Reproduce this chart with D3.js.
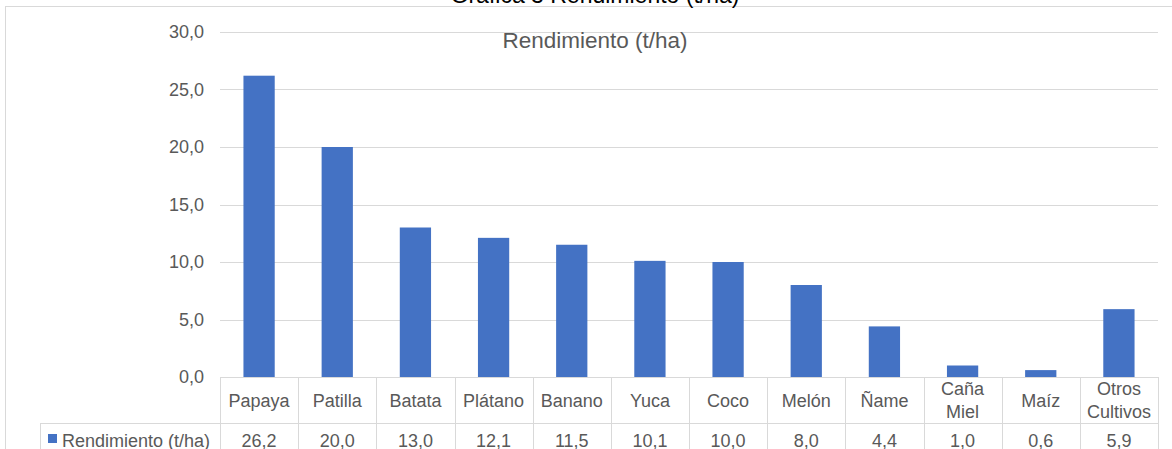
<!DOCTYPE html>
<html><head><meta charset="utf-8">
<script src="https://cdn.jsdelivr.net/npm/d3@7"></script>
<style>
html,body{margin:0;padding:0;background:#fff;overflow:hidden}
text{font-family:"Liberation Sans",Arial,sans-serif}
</style></head>
<body>
<svg id="c" width="1172" height="449"></svg>
<script>
const categories = [["Papaya"],["Patilla"],["Batata"],["Plátano"],["Banano"],["Yuca"],["Coco"],["Melón"],["Ñame"],["Caña","Miel"],["Maíz"],["Otros","Cultivos"]];
const values = [26.2,20.0,13.0,12.1,11.5,10.1,10.0,8.0,4.4,1.0,0.6,5.9];
const yTicks = [0,5,10,15,20,25,30];
const seriesName = "Rendimiento (t/ha)";
const chartTitle = "Gráfica 3 Rendimiento (t/ha)";

(function(){
const svg = d3.select("#c");
const keys = categories.map(c => c.join(" "));
const pLeft = 220, pRight = 1158, pTop = 32, pBottom = 377;
const x = d3.scaleBand().domain(keys).range([pLeft, pRight]).paddingInner(0.6).paddingOuter(0.3);
const y = d3.scaleLinear().domain([0, 30]).range([pBottom, pTop]);
const fmt = v => d3.format(".1f")(v).replace(".", ",");
const grey = "#d9d9d9", txt = "#595959";

// outer chart border
svg.append("rect").attr("x",5.5).attr("y",6.5).attr("width",1180).attr("height",460)
  .attr("fill","none").attr("stroke",grey);

// top (cut) title
svg.append("text").attr("x",595).attr("y",2.5).attr("text-anchor","middle")
  .attr("font-size",23).attr("fill","#000").text(chartTitle);

// gridlines
svg.append("g").selectAll("line").data(yTicks.filter(d=>d>0)).join("line")
  .attr("x1",pLeft).attr("x2",pRight).attr("y1",d=>Math.round(y(d))+0.5).attr("y2",d=>Math.round(y(d))+0.5)
  .attr("stroke",grey);

// y axis labels
const ax = svg.append("g").attr("transform",`translate(${pLeft},0)`)
  .call(d3.axisLeft(y).tickValues(yTicks).tickFormat(fmt).tickSize(0).tickPadding(16));
ax.select(".domain").remove();
ax.selectAll("text").attr("font-size",18).attr("fill",txt).attr("font-family","Liberation Sans, Arial, sans-serif");

// inner title
svg.append("text").attr("x",595).attr("y",48).attr("text-anchor","middle")
  .attr("font-size",22.5).attr("fill",txt).text(seriesName);

// bars
svg.append("g").selectAll("rect").data(values).join("rect")
  .attr("x",(d,i)=>x(keys[i])).attr("width",x.bandwidth())
  .attr("y",d=>y(d)).attr("height",d=>y(0)-y(d)).attr("fill","#4472C4");

// data table
const step = x.step();
const rowSplit = 423;
const tg = svg.append("g");
tg.append("line").attr("x1",pLeft).attr("x2",pRight).attr("y1",pBottom+0.5).attr("y2",pBottom+0.5).attr("stroke",grey);
tg.append("line").attr("x1",40).attr("x2",pRight).attr("y1",rowSplit+0.5).attr("y2",rowSplit+0.5).attr("stroke",grey);
tg.append("line").attr("x1",40.5).attr("x2",40.5).attr("y1",rowSplit).attr("y2",460).attr("stroke",grey);
const bounds = d3.range(keys.length+1).map(i => pLeft + i*step);
tg.selectAll("line.v").data(bounds).join("line").attr("class","v")
  .attr("x1",d=>Math.round(d)+0.5).attr("x2",d=>Math.round(d)+0.5).attr("y1",pBottom).attr("y2",460).attr("stroke",grey);

// header labels
categories.forEach((c,i)=>{
  const cx = x(keys[i]) + x.bandwidth()/2;
  const t = tg.append("text").attr("text-anchor","middle").attr("font-size",18).attr("fill",txt);
  if (c.length === 1) {
    t.append("tspan").attr("x",cx).attr("y",406.5).text(c[0]);
  } else {
    t.append("tspan").attr("x",cx).attr("y",395).text(c[0]);
    t.append("tspan").attr("x",cx).attr("y",418).text(c[1]);
  }
});
// values row
tg.selectAll("text.val").data(values).join("text").attr("class","val")
  .attr("x",(d,i)=>x(keys[i]) + x.bandwidth()/2).attr("y",446.5).attr("text-anchor","middle")
  .attr("font-size",18).attr("fill",txt).text(fmt);
// legend
tg.append("rect").attr("x",48).attr("y",434).attr("width",9).attr("height",9).attr("fill","#4472C4");
tg.append("text").attr("x",62).attr("y",446.5).attr("font-size",18).attr("fill",txt).text(seriesName);
})();
</script>
</body></html>
